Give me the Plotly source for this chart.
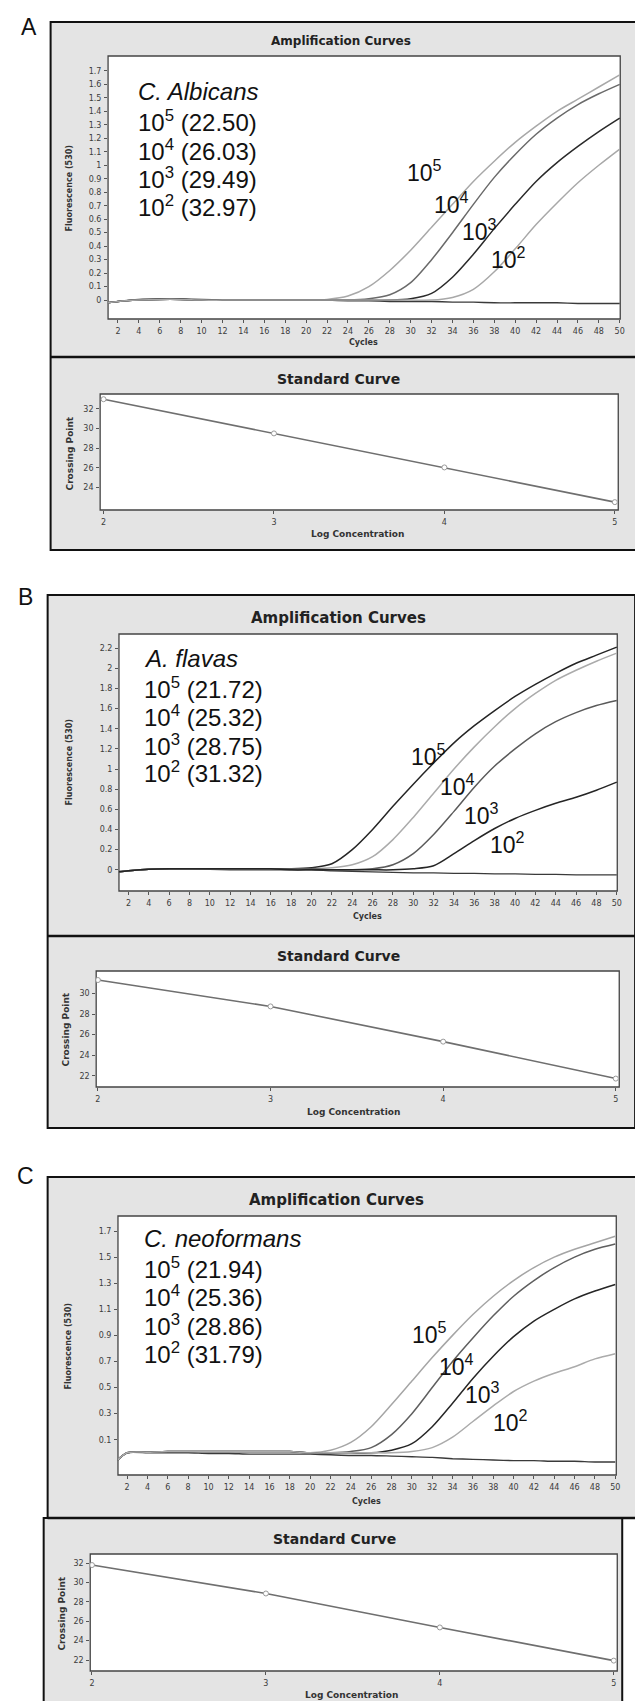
import plotly.graph_objects as go

W, H = 643, 1701

# ---------------- data ----------------
CYCLES = [1, 2, 4, 6, 8, 10, 12, 14, 16, 18, 20, 22, 24, 26, 28, 30, 32, 34, 36, 38, 40, 42, 44, 46, 48, 50]

A_1E5 = [-0.02, -0.01, 0.0, 0.005, 0.005, 0.0, 0.0, 0.0, 0.0, 0.0, 0.0, 0.005, 0.03, 0.10, 0.22, 0.37, 0.54, 0.71, 0.88, 1.03, 1.17, 1.29, 1.40, 1.49, 1.58, 1.67]
A_1E4 = [-0.02, -0.01, 0.0, 0.005, 0.005, 0.0, 0.0, 0.0, 0.0, 0.0, 0.0, 0.0, 0.0, 0.01, 0.04, 0.13, 0.30, 0.50, 0.71, 0.91, 1.08, 1.23, 1.35, 1.45, 1.53, 1.60]
A_1E3 = [-0.02, -0.01, 0.0, 0.005, 0.005, 0.0, 0.0, 0.0, 0.0, 0.0, 0.0, 0.0, 0.0, 0.0, 0.0, 0.01, 0.05, 0.17, 0.34, 0.53, 0.71, 0.88, 1.02, 1.14, 1.25, 1.35]
A_1E2 = [-0.02, -0.01, 0.0, 0.005, 0.005, 0.0, 0.0, 0.0, 0.0, 0.0, 0.0, 0.0, 0.0, 0.0, 0.0, 0.0, 0.0, 0.02, 0.08, 0.21, 0.38, 0.56, 0.72, 0.87, 1.00, 1.12]
A_NEG = [-0.02, -0.01, 0.005, 0.01, 0.01, 0.005, 0.0, 0.0, 0.0, 0.0, 0.0, 0.0, -0.005, -0.005, -0.01, -0.01, -0.01, -0.015, -0.015, -0.02, -0.02, -0.02, -0.02, -0.025, -0.025, -0.025]

B_1E5 = [-0.02, -0.01, 0.005, 0.01, 0.01, 0.01, 0.01, 0.01, 0.01, 0.01, 0.02, 0.06, 0.20, 0.40, 0.63, 0.85, 1.06, 1.26, 1.43, 1.58, 1.72, 1.84, 1.95, 2.05, 2.13, 2.21]
B_1E4 = [-0.02, -0.01, 0.005, 0.01, 0.01, 0.01, 0.01, 0.01, 0.01, 0.01, 0.01, 0.02, 0.05, 0.13, 0.30, 0.52, 0.76, 1.00, 1.22, 1.42, 1.60, 1.75, 1.88, 1.98, 2.07, 2.15]
B_1E3 = [-0.02, -0.01, 0.005, 0.01, 0.01, 0.01, 0.01, 0.01, 0.01, 0.01, 0.01, 0.0, 0.0, 0.01, 0.05, 0.16, 0.35, 0.58, 0.82, 1.03, 1.20, 1.35, 1.47, 1.56, 1.63, 1.68]
B_1E2 = [-0.02, -0.01, 0.005, 0.01, 0.01, 0.01, 0.01, 0.01, 0.01, 0.0, 0.0, 0.0, 0.0, 0.0, 0.0, 0.01, 0.04, 0.16, 0.29, 0.41, 0.51, 0.59, 0.66, 0.72, 0.79, 0.87]
B_NEG = [-0.02, -0.01, 0.005, 0.01, 0.01, 0.005, 0.0, 0.0, 0.0, 0.0, 0.0, -0.01, -0.015, -0.02, -0.025, -0.03, -0.03, -0.035, -0.035, -0.04, -0.04, -0.045, -0.045, -0.05, -0.05, -0.05]

C_1E5 = [-0.06, 0.0, 0.005, 0.01, 0.01, 0.01, 0.01, 0.01, 0.01, 0.01, 0.0, 0.02, 0.08, 0.20, 0.37, 0.55, 0.73, 0.90, 1.06, 1.20, 1.32, 1.42, 1.50, 1.56, 1.61, 1.66]
C_1E4 = [-0.06, 0.0, 0.005, 0.01, 0.01, 0.01, 0.01, 0.01, 0.01, 0.01, 0.0, 0.0, 0.01, 0.04, 0.14, 0.30, 0.50, 0.70, 0.88, 1.05, 1.20, 1.32, 1.42, 1.50, 1.56, 1.60]
C_1E3 = [-0.06, 0.0, 0.005, 0.01, 0.01, 0.01, 0.01, 0.01, 0.01, 0.01, 0.0, 0.0, 0.0, 0.0, 0.02, 0.07, 0.20, 0.38, 0.57, 0.74, 0.89, 1.01, 1.10, 1.18, 1.24, 1.29]
C_1E2 = [-0.06, 0.0, 0.005, 0.01, 0.01, 0.01, 0.01, 0.01, 0.01, 0.01, 0.0, 0.0, 0.0, 0.0, 0.0, 0.01, 0.04, 0.12, 0.24, 0.36, 0.47, 0.55, 0.61, 0.66, 0.72, 0.76]
C_NEG = [-0.06, 0.0, 0.0, 0.0, 0.0, -0.005, -0.005, -0.01, -0.01, -0.01, -0.01, -0.015, -0.02, -0.02, -0.025, -0.03, -0.035, -0.045, -0.05, -0.055, -0.06, -0.06, -0.065, -0.065, -0.07, -0.07]

LOG_CONC = [2, 3, 4, 5]
A_CP = [32.97, 29.49, 26.03, 22.50]
B_CP = [31.32, 28.75, 25.32, 21.72]
C_CP = [31.79, 28.86, 25.36, 21.94]

SPECIES = ["C. Albicans", "A. flavas", "C. neoformans"]
CONC_EXP = ["5", "4", "3", "2"]

AMP_X_TICKS = list(range(2, 51, 2))
A_Y_TICKS = [0, 0.1, 0.2, 0.3, 0.4, 0.5, 0.6, 0.7, 0.8, 0.9, 1, 1.1, 1.2, 1.3, 1.4, 1.5, 1.6, 1.7]
B_Y_TICKS = [0, 0.2, 0.4, 0.6, 0.8, 1, 1.2, 1.4, 1.6, 1.8, 2, 2.2]
C_Y_TICKS = [0.1, 0.3, 0.5, 0.7, 0.9, 1.1, 1.3, 1.5, 1.7]
A_STD_Y_TICKS = [24, 26, 28, 30, 32]
B_STD_Y_TICKS = [22, 24, 26, 28, 30]
C_STD_Y_TICKS = [22, 24, 26, 28, 30, 32]
STD_X_TICKS = [2, 3, 4, 5]


def fx(px):
    return px / W


def fy(py):
    return 1 - py / H


fig = go.Figure()
shapes = []
annotations = []

TICKFONT = dict(family="DejaVu Sans", size=8, color="#3c3c3c")
PANEL_BG = "#e4e4e4"

panels = [
    # name, species, amp data, neg, cp, amp plot box (l, r, t, b), amp ranges, amp yticks, std box, std range, std yticks, styles
    dict(letter="A", letter_xy=(20, 19), frame=(42, 637, 14, 542), divider=349, std_frame=None,
         amp_box=(100, 617, 48, 311), amp_xr=[1.05, 50.05], amp_yr=[-0.14, 1.81], amp_yt=A_Y_TICKS,
         curves=[A_1E5, A_1E4, A_1E3, A_1E2], neg=A_NEG, colors=["#a8a8a8", "#6a6a6a", "#2a2a2a", "#a8a8a8"],
         std_box=(92, 615, 386, 502), std_xr=[1.98, 5.02], std_yr=[21.7, 33.5], std_yt=A_STD_Y_TICKS, cp=A_CP,
         amp_title=(335, 33, 12), std_title=(333, 371, 14),
         fl_title=(61, 180), cyc_title=(358, 334), cp_title=(62, 445), lc_title=(352, 526),
         text_left=128, text_y=[83, 113, 142, 170, 198],
         lab_xy=[(31.3, 0.96), (33.9, 0.72), (36.6, 0.52), (39.4, 0.31)]),
    dict(letter="B", letter_xy=(17, 589), frame=(39, 632, 587, 1120), divider=928, std_frame=None,
         amp_box=(111, 614, 626, 883), amp_xr=[1.07, 50.05], amp_yr=[-0.21, 2.34], amp_yt=B_Y_TICKS,
         curves=[B_1E5, B_1E4, B_1E3, B_1E2], neg=B_NEG, colors=["#252525", "#ababab", "#5a5a5a", "#252525"],
         std_box=(88, 616, 963, 1079), std_xr=[1.99, 5.02], std_yr=[20.9, 32.2], std_yt=B_STD_Y_TICKS, cp=B_CP,
         amp_title=(333, 610, 15), std_title=(333, 948, 14),
         fl_title=(61, 754), cyc_title=(362, 908), cp_title=(58, 1021), lc_title=(348, 1104),
         text_left=134, text_y=[651, 680, 708, 737, 764],
         lab_xy=[(31.5, 1.14), (34.3, 0.84), (36.7, 0.555), (39.3, 0.27)]),
    dict(letter="C", letter_xy=(17, 1168), frame=(39, 634, 1169, 1510), divider=None, std_frame=(35, 619, 1510, 1706),
         amp_box=(110, 613, 1208, 1467), amp_xr=[1.1, 50.1], amp_yr=[-0.17, 1.815], amp_yt=C_Y_TICKS,
         curves=[C_1E5, C_1E4, C_1E3, C_1E2], neg=C_NEG, colors=["#a5a5a5", "#5f5f5f", "#262626", "#ababab"],
         std_box=(82, 614, 1546, 1663), std_xr=[1.99, 5.02], std_yr=[20.87, 32.93], std_yt=C_STD_Y_TICKS, cp=C_CP,
         amp_title=(331, 1192, 15), std_title=(329, 1531, 14),
         fl_title=(60, 1338), cyc_title=(361, 1493), cp_title=(54, 1605), lc_title=(346, 1687),
         text_left=134, text_y=[1230, 1260, 1288, 1317, 1345],
         lab_xy=[(31.7, 0.92), (34.4, 0.67), (36.9, 0.46), (39.7, 0.245)]),
]

layout_axes = {}
ax_i = 0
for pi, p in enumerate(panels):
    # panel backgrounds / frames
    l, r, t, b = p["frame"]
    shapes.append(dict(type="rect", xref="paper", yref="paper", x0=fx(l), x1=fx(r), y0=fy(b), y1=fy(t),
                       fillcolor=PANEL_BG, line=dict(color="#111111", width=2), layer="below"))
    if p["std_frame"] is not None:
        l2, r2, t2, b2 = p["std_frame"]
        shapes.append(dict(type="rect", xref="paper", yref="paper", x0=fx(l2), x1=fx(r2), y0=fy(b2), y1=fy(t2),
                           fillcolor=PANEL_BG, line=dict(color="#111111", width=2), layer="below"))
        shapes.append(dict(type="line", xref="paper", yref="paper", x0=fx(l), x1=fx(r), y0=fy(t2), y1=fy(t2),
                           line=dict(color="#111111", width=2.5), layer="below"))
    if p["divider"] is not None:
        shapes.append(dict(type="line", xref="paper", yref="paper", x0=fx(l), x1=fx(r), y0=fy(p["divider"]),
                           y1=fy(p["divider"]), line=dict(color="#111111", width=2.5), layer="below"))

    annotations.append(dict(text=p["letter"], x=fx(p["letter_xy"][0]), y=fy(p["letter_xy"][1]), xref="paper",
                            yref="paper", showarrow=False, xanchor="center", yanchor="middle",
                            font=dict(family="Liberation Sans", size=23, color="#111111")))

    # ---------- amplification subplot ----------
    for kind in ("amp", "std"):
        ax_i += 1
        xa = "xaxis" if ax_i == 1 else f"xaxis{ax_i}"
        ya = "yaxis" if ax_i == 1 else f"yaxis{ax_i}"
        xr_ = "x" if ax_i == 1 else f"x{ax_i}"
        yr_ = "y" if ax_i == 1 else f"y{ax_i}"
        box = p["amp_box"] if kind == "amp" else p["std_box"]
        bl, br, bt, bb = box
        shapes.append(dict(type="rect", xref="paper", yref="paper", x0=fx(bl), x1=fx(br), y0=fy(bb), y1=fy(bt),
                           fillcolor="white", line=dict(color="#444444", width=1.3), layer="below"))
        if kind == "amp":
            xrng, yrng, xt, yt = p["amp_xr"], p["amp_yr"], AMP_X_TICKS, p["amp_yt"]
        else:
            xrng, yrng, xt, yt = p["std_xr"], p["std_yr"], STD_X_TICKS, p["std_yt"]
        layout_axes[xa] = dict(domain=[fx(bl), fx(br)], range=xrng, anchor=yr_, showgrid=False, zeroline=False,
                               showline=False, ticks="outside", ticklen=3, tickcolor="#555555", tickwidth=1,
                               tickvals=xt, ticktext=[f"{v:g}" for v in xt], tickfont=TICKFONT, ticklabelstandoff=1)
        layout_axes[ya] = dict(domain=[fy(bb), fy(bt)], range=yrng, anchor=xr_, showgrid=False, zeroline=False,
                               showline=False, ticks="outside", ticklen=3, tickcolor="#555555", tickwidth=1,
                               tickvals=yt, ticktext=[f"{v:g}" for v in yt], tickfont=TICKFONT, ticklabelstandoff=1)

        if kind == "amp":
            fig.add_trace(go.Scatter(x=CYCLES, y=p["neg"], mode="lines", xaxis=xr_, yaxis=yr_,
                                     line=dict(color="#3a3a3a", width=1.4, shape="spline", smoothing=0.6),
                                     showlegend=False, hoverinfo="skip"))
            for vals, col in zip(p["curves"], p["colors"]):
                fig.add_trace(go.Scatter(x=CYCLES, y=vals, mode="lines", xaxis=xr_, yaxis=yr_,
                                         line=dict(color=col, width=1.5, shape="spline", smoothing=0.8),
                                         showlegend=False, hoverinfo="skip"))
            # curve labels
            for (lx, ly), e in zip(p["lab_xy"], CONC_EXP):
                annotations.append(dict(text=f"10<sup>{e}</sup>", x=lx, y=ly, xref=xr_, yref=yr_, showarrow=False,
                                        xanchor="center", yanchor="middle",
                                        font=dict(family="Liberation Sans", size=23, color="#111111")))
            # legend-like text
            lines = [f"<i>{SPECIES[pi]}</i>"] + [f"10<sup>{e}</sup> ({cp:.2f})" for e, cp in zip(CONC_EXP, p["cp"][::-1])]
            for txt, ty in zip(lines, p["text_y"]):
                annotations.append(dict(text=txt, x=fx(p["text_left"]), y=fy(ty), xref="paper", yref="paper",
                                        showarrow=False, xanchor="left", yanchor="middle",
                                        font=dict(family="Liberation Sans", size=24, color="#111111")))
            tx, ty, ts = p["amp_title"]
            annotations.append(dict(text="<b>Amplification Curves</b>", x=fx(tx), y=fy(ty), xref="paper", yref="paper",
                                    showarrow=False, xanchor="center", yanchor="middle",
                                    font=dict(family="DejaVu Sans", size=ts, color="#222222")))
            annotations.append(dict(text="<b>Fluorescence (530)</b>", x=fx(p["fl_title"][0]), y=fy(p["fl_title"][1]),
                                    xref="paper", yref="paper", showarrow=False, textangle=-90,
                                    xanchor="center", yanchor="middle",
                                    font=dict(family="DejaVu Sans", size=8, color="#333333")))
            annotations.append(dict(text="<b>Cycles</b>", x=fx(p["cyc_title"][0]), y=fy(p["cyc_title"][1]),
                                    xref="paper", yref="paper", showarrow=False, xanchor="center", yanchor="middle",
                                    font=dict(family="DejaVu Sans", size=8, color="#333333")))
        else:
            fig.add_trace(go.Scatter(x=LOG_CONC, y=p["cp"], mode="lines+markers", xaxis=xr_, yaxis=yr_,
                                     line=dict(color="#6f6f6f", width=1.6),
                                     marker=dict(size=5, color="white", line=dict(color="#9a9a9a", width=1)),
                                     showlegend=False, hoverinfo="skip"))
            tx, ty, ts = p["std_title"]
            annotations.append(dict(text="<b>Standard Curve</b>", x=fx(tx), y=fy(ty), xref="paper", yref="paper",
                                    showarrow=False, xanchor="center", yanchor="middle",
                                    font=dict(family="DejaVu Sans", size=ts, color="#222222")))
            annotations.append(dict(text="<b>Crossing Point</b>", x=fx(p["cp_title"][0]), y=fy(p["cp_title"][1]),
                                    xref="paper", yref="paper", showarrow=False, textangle=-90,
                                    xanchor="center", yanchor="middle",
                                    font=dict(family="DejaVu Sans", size=9, color="#333333")))
            annotations.append(dict(text="<b>Log Concentration</b>", x=fx(p["lc_title"][0]), y=fy(p["lc_title"][1]),
                                    xref="paper", yref="paper", showarrow=False, xanchor="center", yanchor="middle",
                                    font=dict(family="DejaVu Sans", size=9, color="#333333")))

fig.update_layout(
    width=W, height=H, margin=dict(l=0, r=0, t=0, b=0),
    paper_bgcolor="white", plot_bgcolor="rgba(0,0,0,0)",
    showlegend=False, shapes=shapes, annotations=annotations,
    **layout_axes,
)

fig.write_html("out.html")
